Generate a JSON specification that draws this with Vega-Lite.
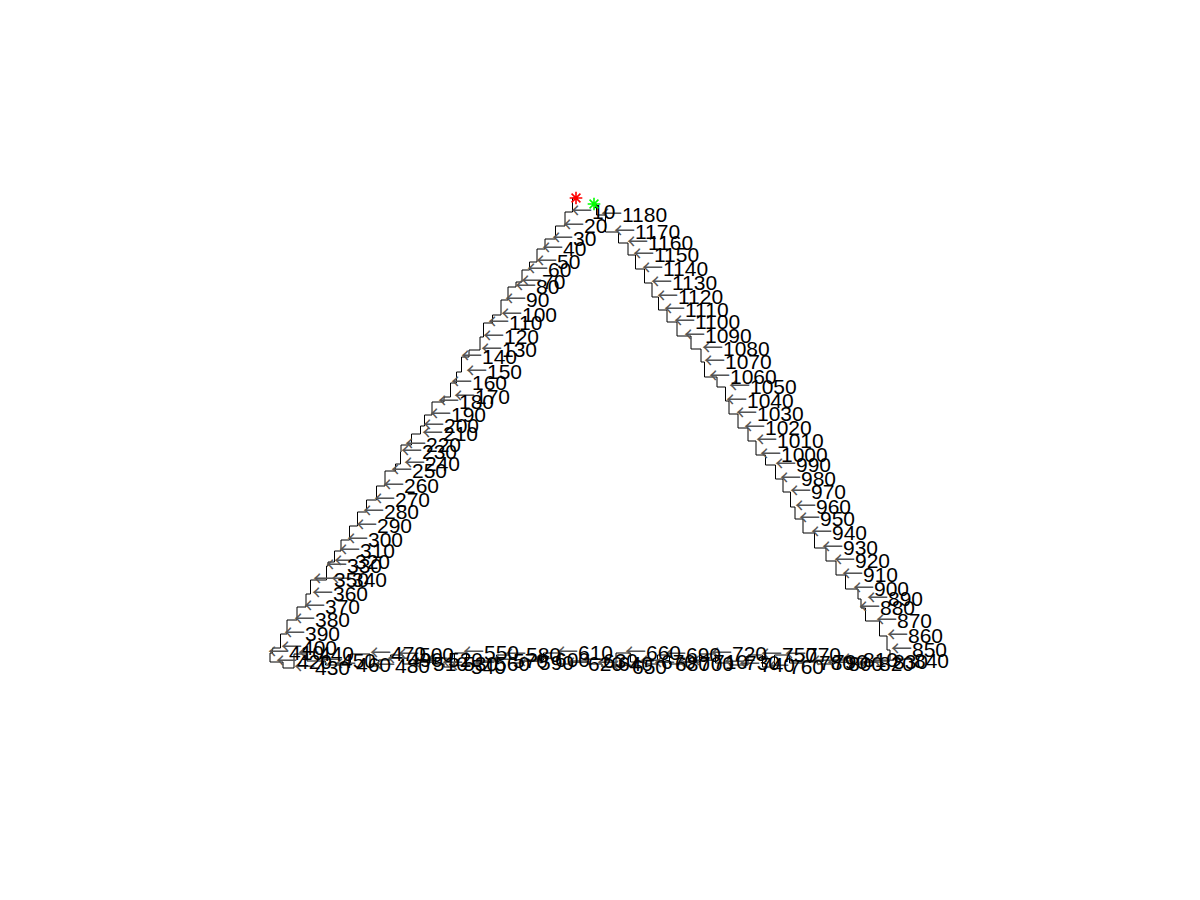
{
  "$schema": "https://vega.github.io/schema/vega-lite/v6.json",
  "width": 1200,
  "height": 900,
  "autosize": {"type": "fit", "contains": "padding"},
  "padding": 0,
  "background": "white",
  "config": {"view": {"stroke": null}},
  "datasets": {
    "walk": [
      {"n": 1, "x": 576, "y": 198},
      {"n": 10, "x": 569, "y": 212},
      {"n": 20, "x": 561, "y": 226},
      {"n": 30, "x": 550, "y": 239},
      {"n": 40, "x": 540, "y": 249},
      {"n": 50, "x": 534, "y": 262},
      {"n": 60, "x": 525, "y": 270},
      {"n": 70, "x": 519, "y": 282},
      {"n": 80, "x": 513, "y": 287},
      {"n": 90, "x": 503, "y": 300},
      {"n": 100, "x": 499, "y": 315},
      {"n": 110, "x": 486, "y": 323},
      {"n": 120, "x": 481, "y": 337},
      {"n": 130, "x": 479, "y": 350},
      {"n": 140, "x": 459, "y": 357},
      {"n": 150, "x": 464, "y": 372},
      {"n": 160, "x": 449, "y": 383},
      {"n": 170, "x": 452, "y": 397},
      {"n": 180, "x": 436, "y": 402},
      {"n": 190, "x": 428, "y": 415},
      {"n": 200, "x": 421, "y": 426},
      {"n": 210, "x": 420, "y": 434},
      {"n": 220, "x": 403, "y": 445},
      {"n": 230, "x": 399, "y": 452},
      {"n": 240, "x": 402, "y": 464},
      {"n": 250, "x": 389, "y": 471},
      {"n": 260, "x": 381, "y": 486},
      {"n": 270, "x": 372, "y": 500},
      {"n": 280, "x": 361, "y": 512},
      {"n": 290, "x": 354, "y": 526},
      {"n": 300, "x": 345, "y": 540},
      {"n": 310, "x": 337, "y": 551},
      {"n": 320, "x": 332, "y": 562},
      {"n": 330, "x": 324, "y": 566},
      {"n": 340, "x": 329, "y": 580},
      {"n": 350, "x": 311, "y": 580},
      {"n": 360, "x": 310, "y": 594},
      {"n": 370, "x": 302, "y": 607},
      {"n": 380, "x": 292, "y": 620},
      {"n": 390, "x": 282, "y": 634},
      {"n": 400, "x": 279, "y": 648},
      {"n": 410, "x": 266, "y": 653},
      {"n": 420, "x": 274, "y": 662},
      {"n": 430, "x": 292, "y": 668},
      {"n": 440, "x": 296, "y": 654},
      {"n": 450, "x": 318, "y": 661},
      {"n": 460, "x": 333, "y": 665},
      {"n": 470, "x": 368, "y": 654},
      {"n": 480, "x": 372, "y": 666},
      {"n": 490, "x": 385, "y": 660},
      {"n": 500, "x": 396, "y": 655},
      {"n": 510, "x": 410, "y": 664},
      {"n": 520, "x": 425, "y": 660},
      {"n": 530, "x": 440, "y": 664},
      {"n": 540, "x": 448, "y": 667},
      {"n": 550, "x": 461, "y": 653},
      {"n": 560, "x": 472, "y": 664},
      {"n": 570, "x": 490, "y": 661},
      {"n": 580, "x": 503, "y": 655},
      {"n": 590, "x": 516, "y": 663},
      {"n": 600, "x": 532, "y": 660},
      {"n": 610, "x": 555, "y": 653},
      {"n": 620, "x": 565, "y": 664},
      {"n": 630, "x": 580, "y": 661},
      {"n": 640, "x": 595, "y": 664},
      {"n": 650, "x": 609, "y": 667},
      {"n": 660, "x": 623, "y": 653},
      {"n": 670, "x": 638, "y": 662},
      {"n": 680, "x": 652, "y": 664},
      {"n": 690, "x": 663, "y": 655},
      {"n": 700, "x": 676, "y": 664},
      {"n": 710, "x": 690, "y": 662},
      {"n": 720, "x": 709, "y": 654},
      {"n": 730, "x": 722, "y": 663},
      {"n": 740, "x": 737, "y": 665},
      {"n": 750, "x": 759, "y": 655},
      {"n": 760, "x": 766, "y": 667},
      {"n": 770, "x": 783, "y": 655},
      {"n": 780, "x": 796, "y": 663},
      {"n": 790, "x": 810, "y": 662},
      {"n": 800, "x": 825, "y": 664},
      {"n": 810, "x": 840, "y": 660},
      {"n": 820, "x": 856, "y": 664},
      {"n": 830, "x": 870, "y": 662},
      {"n": 840, "x": 891, "y": 661},
      {"n": 850, "x": 889, "y": 650},
      {"n": 860, "x": 885, "y": 636},
      {"n": 870, "x": 874, "y": 621},
      {"n": 880, "x": 857, "y": 608},
      {"n": 890, "x": 865, "y": 599},
      {"n": 900, "x": 851, "y": 589},
      {"n": 910, "x": 840, "y": 575},
      {"n": 920, "x": 832, "y": 561},
      {"n": 930, "x": 820, "y": 548},
      {"n": 940, "x": 809, "y": 533},
      {"n": 950, "x": 797, "y": 519},
      {"n": 960, "x": 793, "y": 507},
      {"n": 970, "x": 788, "y": 492},
      {"n": 980, "x": 778, "y": 479},
      {"n": 990, "x": 773, "y": 465},
      {"n": 1000, "x": 758, "y": 455},
      {"n": 1010, "x": 754, "y": 441},
      {"n": 1020, "x": 742, "y": 428},
      {"n": 1030, "x": 734, "y": 414},
      {"n": 1040, "x": 724, "y": 401},
      {"n": 1050, "x": 727, "y": 387},
      {"n": 1060, "x": 707, "y": 377},
      {"n": 1070, "x": 702, "y": 362},
      {"n": 1080, "x": 700, "y": 349},
      {"n": 1090, "x": 682, "y": 336},
      {"n": 1100, "x": 672, "y": 322},
      {"n": 1110, "x": 662, "y": 310},
      {"n": 1120, "x": 655, "y": 297},
      {"n": 1130, "x": 649, "y": 283},
      {"n": 1140, "x": 640, "y": 269},
      {"n": 1150, "x": 631, "y": 255},
      {"n": 1160, "x": 625, "y": 243},
      {"n": 1170, "x": 612, "y": 232},
      {"n": 1180, "x": 599, "y": 215},
      {"n": 1185, "x": 594, "y": 204}
    ],
    "ends": [
      {"kind": "start", "x": 576, "y": 198},
      {"kind": "end", "x": 594, "y": 204}
    ]
  },
  "layer": [
    {
      "data": {"name": "walk"},
      "mark": {"type": "line", "color": "black", "strokeWidth": 1, "interpolate": "step"},
      "encoding": {
        "x": {"field": "x", "type": "quantitative", "scale": {"domain": [0, 1200]}, "axis": null},
        "y": {"field": "y", "type": "quantitative", "scale": {"domain": [0, 900], "reverse": true}, "axis": null},
        "order": {"field": "n"}
      }
    },
    {
      "data": {"name": "walk"},
      "transform": [{"filter": "datum.n % 10 == 0"}],
      "mark": {"type": "text", "align": "left", "baseline": "middle", "dx": 2, "font": "Noto Sans CJK SC", "fontSize": 21, "color": "#555"},
      "encoding": {
        "x": {"field": "x", "type": "quantitative"},
        "y": {"field": "y", "type": "quantitative"},
        "text": {"value": "←"}
      }
    },
    {
      "data": {"name": "walk"},
      "transform": [{"filter": "datum.n % 10 == 0"}],
      "mark": {"type": "text", "align": "left", "baseline": "middle", "dx": 23, "dy": 1, "font": "Liberation Sans", "fontSize": 21, "color": "black"},
      "encoding": {
        "x": {"field": "x", "type": "quantitative"},
        "y": {"field": "y", "type": "quantitative"},
        "text": {"field": "n", "type": "quantitative"}
      }
    },
    {
      "data": {"name": "ends"},
      "mark": {"type": "point", "shape": "M-1,0L1,0M0,-1L0,1M-0.7,-0.7L0.7,0.7M-0.7,0.7L0.7,-0.7", "filled": false, "size": 160, "strokeWidth": 1.6, "opacity": 1},
      "encoding": {
        "x": {"field": "x", "type": "quantitative"},
        "y": {"field": "y", "type": "quantitative"},
        "color": {"field": "kind", "type": "nominal", "scale": {"domain": ["start", "end"], "range": ["#ff0000", "#00ff00"]}, "legend": null}
      }
    }
  ]
}
